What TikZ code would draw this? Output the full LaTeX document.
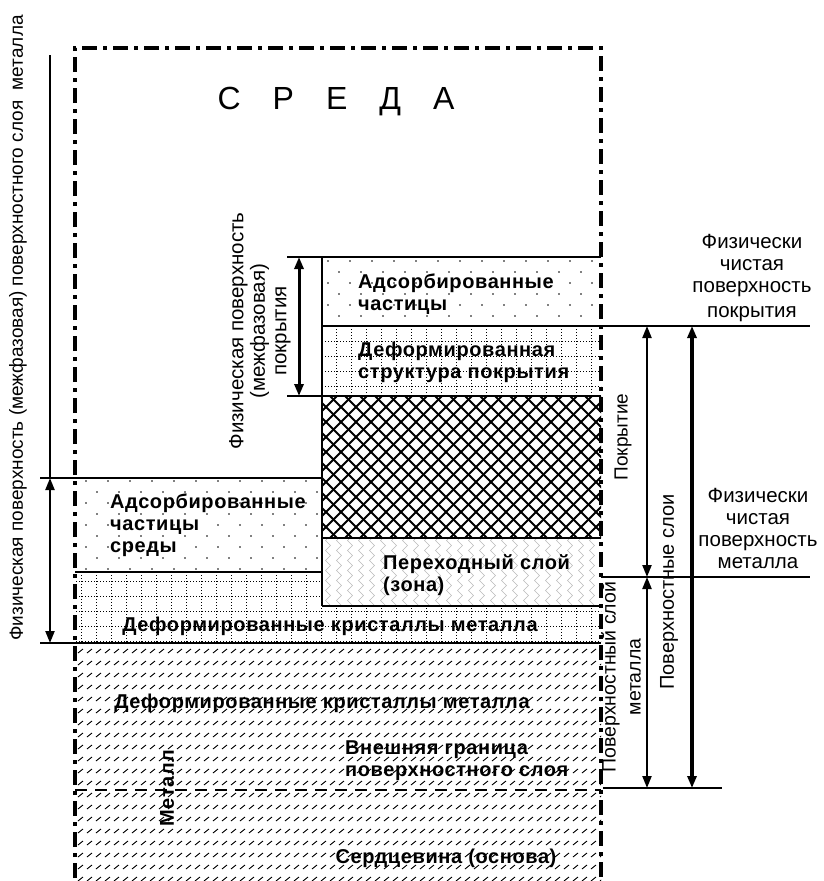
\documentclass[tikz,border=0pt]{standalone}
\usepackage{fontspec}
\setmainfont{Liberation Sans}
\newfontfamily\layerfont[LetterSpace=3]{Liberation Sans}
\usetikzlibrary{arrows.meta,decorations.pathmorphing}

\tikzset{
  bound/.style={line width=2.8pt},
  thinbound/.style={line width=1.8pt},
  frame/.style={line width=3.5pt, dash pattern=on 15pt off 6pt on 4pt off 6pt},
  dimarrow/.style={line width=2.2pt, {Triangle[length=12pt,width=9pt]}-{Triangle[length=12pt,width=9pt]}},
  lbl/.style={font=\fontsize{20.5}{22}\selectfont, align=center, inner sep=0pt},
  layerlbl/.style={font=\layerfont\bfseries\fontsize{20}{22}\selectfont, align=left, inner sep=0pt, anchor=west},
}

\begin{document}
\begin{tikzpicture}[x=1pt,y=-1pt]
\useasboundingbox (0,0) rectangle (823,881);

% adsorbed particles
\begin{scope}
  \clip (322,257) rectangle (601,326) (75,478) rectangle (322,572);
  \foreach \j in {0,...,30} \foreach \i in {0,...,24}
    \fill ({75+22*\i+11*mod(\j,2)},{250+11*\j}) circle (0.85);
\end{scope}

% deformed structure grid
\begin{scope}
  \clip (322,326) rectangle (601,396) (75,572) rectangle (322,643) (322,606) rectangle (601,643);
  \foreach \x in {81,96,...,601} \draw[dotted, line width=1pt] (\x,320) -- (\x,650);
  \foreach \y in {341,356,...,641} \draw[dotted, line width=1pt] (70,\y) -- (605,\y);
\end{scope}

% coating
\begin{scope}
  \clip (322,396) rectangle (601,538);
  \foreach \x in {180,195,...,601} \draw[line width=1.9pt] (\x,396) -- ++(142,142);
  \foreach \x in {322,337,...,745} \draw[line width=1.9pt] (\x,396) -- ++(-142,142);
\end{scope}

% transition zone
\begin{scope}
  \clip (322,538) rectangle (601,606);
  \foreach \x in {328,339,...,601}
    \draw[gray!55, line width=0.6pt, decorate, decoration={zigzag, segment length=10pt, amplitude=2.5pt}] (\x,533) -- (\x,612);
\end{scope}

% metal
\begin{scope}
  \clip (75,643) rectangle (601,881);
  \draw[line width=0.9pt] \foreach \j in {0,...,19} { \foreach \i in {0,...,58} { ({78+9*\i},{653+12*\j}) -- ++(5,-4) } };
\end{scope}

% boundaries
\draw[bound] (287,257) -- (601,257);
\draw[bound] (322,326) -- (810,326);
\draw[bound] (287,396) -- (601,396);
\draw[thinbound] (40,478) -- (322,478);
\draw[thinbound] (322,538) -- (601,538);
\draw[thinbound] (75,572) -- (322,572);
\draw[thinbound] (601,577) -- (810,577);
\draw[thinbound] (322,606) -- (601,606);
\draw[bound] (40,643) -- (601,643);
\draw[thinbound] (603,788) -- (722,788);
\draw[line width=1.2pt] (322,257) -- (322,396);
\draw[thinbound] (322,396) -- (322,606);
\draw[line width=2.5pt, dash pattern=on 12pt off 8pt] (75,790) -- (601,790);
\draw[frame] (75,878) -- (75,48) -- (601,48) -- (601,878);

% dimensions
\coordinate (physTop) at (50,55);
\coordinate (physA) at (50,478);
\coordinate (physB) at (50,643);
\coordinate (cpA) at (299,257);
\coordinate (cpB) at (299,396);
\coordinate (covA) at (647,326);
\coordinate (covB) at (647,577);
\coordinate (msB) at (647,788);
\coordinate (slA) at (692,326);
\coordinate (slB) at (692,788);
\draw[line width=1.5pt] (physTop) -- (physA);
\draw[dimarrow] (physA) -- (physB);
\draw[dimarrow, line width=3pt] (cpA) -- (cpB);
\draw[dimarrow] (covA) -- (covB);
\draw[dimarrow] (covB) -- (msB);
\draw[dimarrow, line width=3.2pt] (slA) -- (slB);

% labels
\node[font=\fontsize{32}{36}\selectfont, inner sep=0pt] (sreda) at (336,102)
  {С\hspace{32pt}Р\hspace{32pt}Е\hspace{32pt}Д\hspace{32pt}А};
\node[lbl, font=\fontsize{19}{21}\selectfont, rotate=90] (physlbl) at (18,328)
  {Физическая поверхность (межфазовая) поверхностного слоя\ \ металла};
\node[lbl, font=\fontsize{20.5}{21.5}\selectfont, rotate=90] (cplbl) at (260,331)
  {Физическая поверхность\\(межфазовая)\\покрытия};
\node[lbl] (cleancov) at (752,278) {Физически\\чистая\\поверхность\\[3pt]покрытия};
\node[lbl] (cleanmet) at (758,528) {Физически\\чистая\\поверхность\\металла};
\node[lbl, font=\fontsize{19}{22}\selectfont, rotate=90] (covlbl) at (623,437) {Покрытие};
\node[lbl, font=\fontsize{20}{22}\selectfont, rotate=90] (sllbl) at (669,592) {Поверхностные слои};
\node[lbl, rotate=90, font=\fontsize{19.5}{25}\selectfont] (mslbl) at (621,677) {Поверхностный слой\\металла};

\node[layerlbl] (adsc) at (358,294) {Адсорбированные\\частицы};
\node[layerlbl] (defc) at (358,362) {Деформированная\\структура покрытия};
\node[layerlbl] (trans) at (383,575) {Переходный слой\\(зона)};
\node[layerlbl] (adsm) at (110,525) {Адсорбированные\\частицы\\среды};
\node[layerlbl, anchor=center] (defm1) at (330,626) {Деформированные кристаллы металла};
\node[layerlbl, anchor=center] (defm2) at (322,703) {Деформированные кристаллы металла};
\node[layerlbl] (outer) at (345,761) {Внешняя граница\\поверхностного слоя};
\node[layerlbl, anchor=center, rotate=90] (metal) at (167,788) {Металл};
\node[layerlbl, anchor=center] (core) at (446,858) {Сердцевина (основа)};
\end{tikzpicture}
\end{document}
